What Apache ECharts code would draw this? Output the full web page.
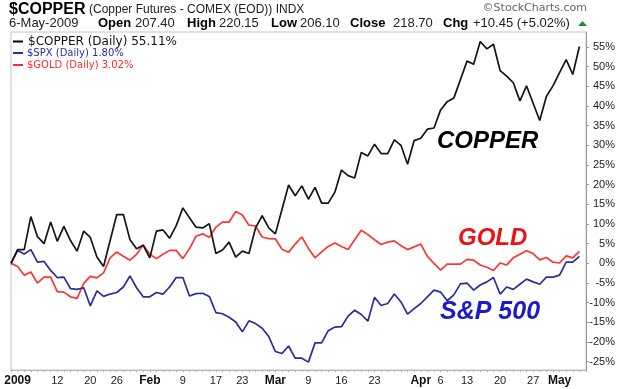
<!DOCTYPE html>
<html>
<head>
<meta charset="utf-8">
<script src="https://cdn.jsdelivr.net/npm/echarts@6/dist/echarts.min.js"></script>
<style>
html,body{margin:0;padding:0;background:#fff;}
#chart{width:620px;height:389px;}
</style>
</head>
<body>
<div id="chart"></div>
<script>
// Trading days (Dec 31 2008 through May 6 2009)
const tradingDays = {
  '2008-12': [31],
  '2009-01': [2,5,6,7,8,9,12,13,14,15,16,20,21,22,23,26,27,28,29,30],
  '2009-02': [2,3,4,5,6,9,10,11,12,13,17,18,19,20,23,24,25,26,27],
  '2009-03': [2,3,4,5,6,9,10,11,12,13,16,17,18,19,20,23,24,25,26,27,30,31],
  '2009-04': [1,2,3,6,7,8,9,13,14,15,16,17,20,21,22,23,24,27,28,29,30],
  '2009-05': [1,4,5,6]
};

// Percent change since Dec 31 2008
const copper = [0,3.5,3.5,11.9,6.8,5.0,10.5,5.6,9.4,5.8,3.1,8.2,6.6,1.6,-0.8,5.8,12.4,12.4,6.0,3.7,
  4.6,1.4,8.2,8.5,6.4,9.6,14.1,11.6,9.2,9.0,10.1,2.5,3.4,5.4,1.6,3.1,2.5,9.0,12.1,9.0,
  7.5,13.7,19.9,17.2,19.7,16.3,19.3,15.3,15.3,18.1,23.7,22.3,21.7,28.2,27.3,30.3,27.9,27.9,31.4,30.0,
  25.2,31.2,31.8,34.1,34.4,39.0,41.1,42.0,46.7,51.4,50.6,56.4,54.5,55.7,49.0,47.6,45.9,41.3,45.1,40.7,
  36.3,42.4,45.1,48.5,51.8,48.0,55.11];
const spx = [0,3.3,2.4,3.5,0.3,0.5,-1.8,-3.6,-3.5,-6.4,-6.6,-6.2,-10.8,-7.0,-8.4,-7.8,-7.4,-6.0,-3.2,-6.2,
  -8.5,-8.5,-7.4,-7.8,-6.0,-3.6,-3.6,-8.3,-7.7,-7.6,-8.4,-12.5,-12.8,-13.7,-14.9,-17.4,-14.6,-15.3,-16.5,-18.6,
  -22.4,-22.9,-21.0,-24.1,-24.1,-25.1,-20.2,-20.2,-17.1,-16.2,-16.1,-13.4,-11.9,-13.0,-14.7,-8.6,-10.7,-10.2,-7.8,-9.8,
  -12.9,-11.5,-10.2,-8.5,-6.8,-7.3,-9.5,-8.0,-5.2,-5.0,-6.8,-5.5,-4.7,-3.6,-7.8,-6.0,-6.6,-5.3,-4.0,-4.7,
  -5.3,-3.5,-3.5,-3.0,0.3,0.3,1.80];
const gold = [0,-0.8,-3.0,-2.2,-5.0,-3.5,-3.5,-7.2,-7.3,-8.5,-8.9,-5.1,-3.3,-3.7,-2.4,1.4,2.9,1.8,0.8,2.3,
  4.7,2.3,1.2,2.3,3.3,3.3,1.2,3.7,6.9,7.5,6.6,9.2,10.5,10.5,13.2,12.3,9.7,9.5,6.7,6.3,
  6.2,3.6,2.8,4.9,6.7,3.8,1.4,2.9,4.3,5.2,4.3,3.5,6.0,8.4,7.3,6.0,4.8,5.4,5.7,4.5,
  3.5,4.2,4.9,1.8,0.0,-1.7,-0.2,-0.2,-0.2,1.0,0.8,-0.4,-1.0,-1.8,0.1,-0.4,1.4,2.3,3.2,2.5,
  0.9,1.5,0.3,0.1,1.9,1.4,3.02];

const tickDates = ['2009-01-02','2009-01-12','2009-01-20','2009-01-26','2009-02-02','2009-02-09','2009-02-17','2009-02-23',
  '2009-03-02','2009-03-09','2009-03-16','2009-03-23','2009-04-01','2009-04-06','2009-04-13','2009-04-20','2009-04-27','2009-05-01'];
const tickTexts = ['2009','12','20','26','Feb','9','17','23','Mar','9','16','23','Apr','6','13','20','27','May'];
const boldTicks = ['2009','Feb','Mar','Apr','May'];
const yTicks = [-25,-20,-15,-10,-5,0,5,10,15,20,25,30,35,40,45,50,55];

const legendTexts = ['$COPPER (Daily) 55.11%','$SPX (Daily) 1.80%','$GOLD (Daily) 3.02%'];

const dates = [];
Object.keys(tradingDays).forEach(function (m) {
  tradingDays[m].forEach(function (d) { dates.push(m + '-' + (d < 10 ? '0' + d : d)); });
});
const categories = dates.concat(['']); // small padding slot at right edge

const labelMap = {};
tickDates.forEach(function (d, i) { labelMap[d] = tickTexts[i]; });

const SANS = '"Liberation Sans", Arial, sans-serif';
const VERD = '"DejaVu Sans", Verdana, sans-serif';

function txt(text, x, y, font, fill, align) {
  return { type: 'text', silent: true, x: x, y: y,
    style: { text: text, font: font, fill: fill, align: align || 'left', verticalAlign: 'middle',
      textAlign: align || 'left', textVerticalAlign: 'middle' } };
}
function dash(x, y, color) {
  return { type: 'line', silent: true, shape: { x1: x, y1: y, x2: x + 10, y2: y },
    style: { stroke: color, lineWidth: 2 } };
}

const chart = echarts.init(document.getElementById('chart'), null, { renderer: 'canvas' });
chart.setOption({
  animation: false,
  backgroundColor: '#fff',
  grid: { left: 11, right: 34, top: 32, bottom: 19, show: true, borderColor: '#c4c4c4', borderWidth: 1 },
  xAxis: {
    type: 'category', data: categories, boundaryGap: false,
    axisLine: { show: true, onZero: false, lineStyle: { color: '#b8b8b8', width: 1 } },
    axisTick: { show: true, interval: 0, length: 2, lineStyle: { color: '#b0b0b0' } },
    axisLabel: {
      interval: 0, margin: 5, fontSize: 11, color: '#222', fontFamily: SANS,
      formatter: function (v) {
        const t = labelMap[v];
        if (!t) return '';
        return boldTicks.indexOf(t) >= 0 ? '{b|' + t + '}' : t;
      },
      rich: { b: { fontWeight: 'bold', fontSize: 12, color: '#111', fontFamily: SANS } }
    },
    splitLine: { show: false }
  },
  yAxis: {
    type: 'value', position: 'right', min: -27.1, max: 58.8,
    axisLine: { show: true, lineStyle: { color: '#9a9a9a', width: 1 } },
    axisTick: { show: true, length: 3, inside: false, customValues: yTicks, lineStyle: { color: '#999' } },
    axisLabel: { customValues: yTicks, formatter: function (v) { return v + '%'; },
      align: 'right', margin: 29, fontSize: 11, color: '#222', fontFamily: SANS },
    splitLine: { show: false }
  },
  series: [
    { name: '$GOLD', type: 'line', data: gold, symbol: 'none', lineStyle: { color: '#ff3535', width: 1.7 }, z: 2 },
    { name: '$SPX', type: 'line', data: spx, symbol: 'none', lineStyle: { color: '#2c2c9c', width: 1.7 }, z: 3 },
    { name: '$COPPER', type: 'line', data: copper, symbol: 'none', lineStyle: { color: '#151515', width: 1.7 }, z: 4 }
  ],
  graphic: [
    txt('$COPPER', 9, 9.5, 'bold 16px ' + SANS, '#000'),
    txt('(Copper Futures - COMEX (EOD)) INDX', 89, 10, '12px ' + SANS, '#222'),
    txt('\u00A9StockCharts.com', 587, 8.5, '11px ' + VERD, '#666', 'right'),
    txt('6-May-2009', 9, 23.5, '13px ' + SANS, '#222'),
    txt('Open', 98, 23.5, 'bold 13px ' + SANS, '#000'),
    txt('207.40', 135, 23.5, '13px ' + SANS, '#222'),
    txt('High', 187, 23.5, 'bold 13px ' + SANS, '#000'),
    txt('220.15', 219, 23.5, '13px ' + SANS, '#222'),
    txt('Low', 271, 23.5, 'bold 13px ' + SANS, '#000'),
    txt('206.10', 300, 23.5, '13px ' + SANS, '#222'),
    txt('Close', 350, 23.5, 'bold 13px ' + SANS, '#000'),
    txt('218.70', 393, 23.5, '13px ' + SANS, '#222'),
    txt('Chg', 443, 23.5, 'bold 13px ' + SANS, '#000'),
    txt('+10.45 (+5.02%)', 473, 23.5, '13px ' + SANS, '#222'),
    { type: 'polygon', silent: true, shape: { points: [[578, 26], [587, 26], [582.5, 21]] }, style: { fill: '#1f8a2e' } },
    dash(13, 41.5, '#000'),
    txt(legendTexts[0], 28, 41.5, '12px ' + VERD, '#111'),
    dash(13, 53, '#2c2c9c'),
    txt(legendTexts[1], 27, 53, '10px ' + VERD, '#2c2c9c'),
    dash(13, 65, '#ff2a2a'),
    txt(legendTexts[2], 27, 65, '10px ' + VERD, '#ff2a2a'),
    txt('COPPER', 437, 141, 'italic bold 24px ' + SANS, '#000'),
    txt('GOLD', 458, 238, 'italic bold 24px ' + SANS, '#ee1111'),
    txt('S&P 500', 440, 312, 'italic bold 25px ' + SANS, '#1a1acc')
  ]
});
</script>
</body>
</html>
